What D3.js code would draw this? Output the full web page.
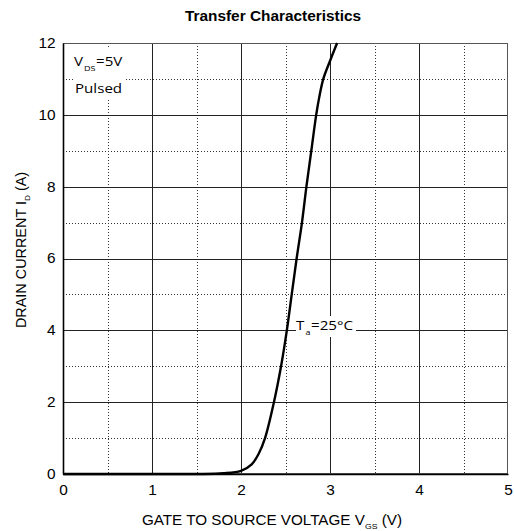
<!DOCTYPE html>
<html>
<head>
<meta charset="utf-8">
<script src="https://cdn.jsdelivr.net/npm/d3@7"></script>
<style>
  body { margin: 0; background: #fff; }
  svg { display: block; }
  .tick_lbl { font-family: "Liberation Sans", Arial, sans-serif; font-size: 14px; fill: #000; }
  .note { font-family: "Open Sans", sans-serif; font-size: 13.5px; fill: #000; }
  .ttl { font-family: "Liberation Sans", Arial, sans-serif; font-size: 14px; fill: #000; }
</style>
</head>
<body>
<div id="chart"></div>
<script>
// readings: gate voltage (V) vs drain current (A)
var vgs = [0, 1.0, 1.5, 1.8, 2.0, 2.12, 2.2, 2.27, 2.37, 2.45, 2.515, 2.57, 2.625, 2.685, 2.735, 2.79, 2.845, 2.88, 2.925, 3.0, 3.08];
var drainCurrent = [0, 0, 0, 0.02, 0.09, 0.27, 0.57, 1, 2, 3, 4, 5, 6, 7, 8, 9, 10, 10.5, 11, 11.5, 12];
var xTicks = [0, 1, 2, 3, 4, 5];
var yTicks = [0, 2, 4, 6, 8, 10, 12];
var xMinor = [0.5, 1.5, 2.5, 3.5, 4.5];
var yMinor = [1, 3, 5, 7, 9, 11];

var W = 514, H = 531;
var margin = {top: 43, right: 6, bottom: 57, left: 63},
  width = W - margin.left - margin.right,
  height = H - margin.top - margin.bottom;
var stretch = 1.1; // the source text is a little wider than the fonts we have

var svg = d3.select('#chart').append('svg')
  .attr('width', W)
  .attr('height', H);

var g = svg.append('g')
  .attr('transform', 'translate(' + margin.left + ',' + margin.top + ')');

var x = d3.scaleLinear().domain([0, 5]).range([0, width]);
var y = d3.scaleLinear().domain([0, 12]).range([height, 0]);

function px(v) { return Math.round(v) + 0.5; }

// minor dotted grid
g.append('g').selectAll('line').data(xMinor).enter().append('line')
  .attr('x1', function (d) { return px(x(d)); })
  .attr('x2', function (d) { return px(x(d)); })
  .attr('y1', 0).attr('y2', height)
  .attr('stroke', '#333').attr('stroke-width', 1).attr('stroke-dasharray', '1,2');
g.append('g').selectAll('line').data(yMinor).enter().append('line')
  .attr('y1', function (d) { return px(y(d)); })
  .attr('y2', function (d) { return px(y(d)); })
  .attr('x1', 0).attr('x2', width)
  .attr('stroke', '#333').attr('stroke-width', 1).attr('stroke-dasharray', '1,2');

// major solid grid
g.append('g').selectAll('line').data(xTicks.slice(1, -1)).enter().append('line')
  .attr('x1', function (d) { return px(x(d)); })
  .attr('x2', function (d) { return px(x(d)); })
  .attr('y1', 0).attr('y2', height)
  .attr('stroke', '#222').attr('stroke-width', 1);
g.append('g').selectAll('line').data(yTicks.slice(1, -1)).enter().append('line')
  .attr('y1', function (d) { return px(y(d)); })
  .attr('y2', function (d) { return px(y(d)); })
  .attr('x1', 0).attr('x2', width)
  .attr('stroke', '#222').attr('stroke-width', 1);

// frame
g.append('rect')
  .attr('x', 0.5).attr('y', 0.5)
  .attr('width', width - 1).attr('height', height - 1)
  .attr('fill', 'none').attr('stroke', '#555').attr('stroke-width', 1);

// curve
var line = d3.line()
  .x(function (d, i) { return x(vgs[i]); })
  .y(function (d) { return y(d); })
  .curve(d3.curveCatmullRom.alpha(0.5));

g.append('path')
  .datum(drainCurrent)
  .attr('d', line)
  .attr('fill', 'none')
  .attr('stroke', '#000')
  .attr('stroke-width', 2.4);

// left + bottom axes (black, drawn over frame)
var xAxis = g.append('g')
  .attr('transform', 'translate(0,' + height + ')')
  .call(d3.axisBottom(x).tickValues(xTicks).tickSize(0).tickFormat(d3.format('d')));
var yAxis = g.append('g')
  .call(d3.axisLeft(y).tickValues(yTicks).tickSize(0).tickFormat(d3.format('d')));

[xAxis, yAxis].forEach(function (a) {
  a.select('.domain').attr('stroke', '#000').attr('stroke-width', 1.6);
  a.selectAll('text').attr('class', 'tick_lbl').attr('font-family', null).attr('font-size', null)
    .attr('transform', 'scale(' + stretch + ',1)');
});
xAxis.selectAll('text').attr('dy', null).attr('y', 21).attr('x', 0);
yAxis.selectAll('text').attr('x', -7.5 / stretch);

// annotations with white boxes
g.append('rect').attr('x', 73 - margin.left).attr('y', 48 - margin.top)
  .attr('width', 52).attr('height', 50).attr('fill', '#fff');
var vds = g.append('text').attr('class', 'note')
  .attr('transform', 'translate(' + (74 - margin.left) + ',' + (66 - margin.top) + ') scale(1.12,1)');
vds.append('tspan').text('V');
vds.append('tspan').attr('dy', 5).attr('dx', 1).attr('font-size', '8px').text('DS');
vds.append('tspan').attr('dy', -5).attr('dx', 0.5).text('=5V');
g.append('text').attr('class', 'note')
  .attr('transform', 'translate(' + (75 - margin.left) + ',' + (93 - margin.top) + ') scale(1.12,1)')
  .text('Pulsed');

g.append('rect').attr('x', 296 - margin.left).attr('y', 316 - margin.top)
  .attr('width', 60).attr('height', 21).attr('fill', '#fff');
var ta = g.append('text').attr('class', 'note')
  .attr('transform', 'translate(' + (296 - margin.left) + ',' + (330 - margin.top) + ') scale(1.12,1)');
ta.append('tspan').text('T');
ta.append('tspan').attr('dy', 5).attr('dx', 1).attr('font-size', '8px').text('a');
ta.append('tspan').attr('dy', -5).attr('dx', 0.5).text('=25\u00b0C');

// titles
svg.append('text')
  .attr('class', 'ttl')
  .attr('transform', 'translate(273,21) scale(' + stretch + ',1)')
  .attr('text-anchor', 'middle')
  .attr('font-size', '15.5px').attr('font-weight', 'bold')
  .text('Transfer Characteristics');

var xt = svg.append('text')
  .attr('class', 'ttl')
  .attr('transform', 'translate(272,525) scale(1.09,1)')
  .attr('text-anchor', 'middle');
xt.append('tspan').text('GATE TO SOURCE VOLTAGE V');
xt.append('tspan').attr('dy', 4).attr('font-size', '8px').text('GS');
xt.append('tspan').attr('dy', -4).text(' (V)');

var yt = svg.append('text')
  .attr('class', 'ttl')
  .attr('transform', 'translate(26,250) rotate(-90) scale(1.03,1)')
  .attr('text-anchor', 'middle');
yt.append('tspan').text('DRAIN CURRENT I');
yt.append('tspan').attr('dy', 4).attr('font-size', '8px').text('D');
yt.append('tspan').attr('dy', -4).text(' (A)');
</script>
</body>
</html>
